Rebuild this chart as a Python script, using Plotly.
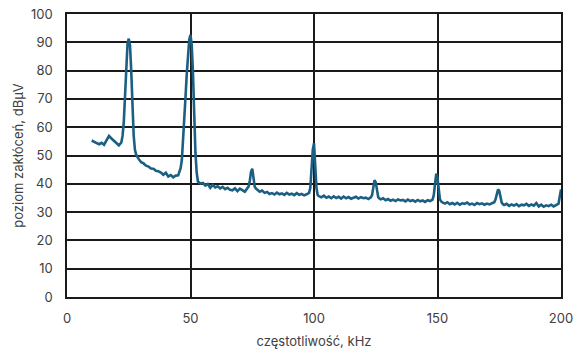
import plotly.graph_objects as go

freq_khz = [
    10, 11, 12, 13, 14, 15, 16, 17, 18, 19, 20, 21, 22,
    22.5, 23, 23.5, 24, 24.5, 25, 25.5, 26, 26.5, 27, 27.5, 28,
    29, 30, 31, 32, 33, 34, 35, 36, 37, 38, 39, 40, 41, 42, 43, 44, 45,
    45.5, 46, 46.5, 47, 47.5, 48, 48.5, 49, 49.5, 50, 50.5, 51, 51.5, 52, 52.5, 53,
    54, 55, 56, 57, 58, 59, 60, 61, 62, 63, 64, 65, 66, 67, 68, 69, 70, 71, 72, 73,
    73.5, 74, 74.5, 75, 75.5, 76, 76.5,
    77, 78, 79, 80, 81, 82, 83, 84, 85, 86, 87, 88, 89, 90, 91, 92, 93, 94, 95, 96, 97, 98,
    98.5, 99, 99.5, 100, 100.5, 101, 101.5,
    102, 103, 104, 105, 106, 107, 108, 109, 110, 111, 112, 113, 114, 115, 116, 117, 118, 119, 120, 121, 122, 123,
    123.5, 124, 124.5, 125, 125.5, 126, 126.5,
    127, 128, 129, 130, 131, 132, 133, 134, 135, 136, 137, 138, 139, 140, 141, 142, 143, 144, 145, 146, 147, 148,
    148.5, 149, 149.5, 150, 150.5, 151, 151.5,
    152, 153, 154, 155, 156, 157, 158, 159, 160, 161, 162, 163, 164, 165, 166, 167, 168, 169, 170, 171, 172, 173,
    173.5, 174, 174.5, 175, 175.5, 176, 176.5,
    177, 178, 179, 180, 181, 182, 183, 184, 185, 186, 187, 188, 189, 190, 191, 192, 193, 194, 195, 196, 197, 198, 199,
    199.5, 200,
]

level_dbuv = [
    55.3, 54.7, 54.4, 54.0, 54.5, 53.8, 55.4, 56.9, 56.0, 55.2, 54.3, 53.6, 54.6,
    57, 62, 71, 82, 89.5, 91.3, 89, 80, 67, 57, 52, 50.3,
    48.8, 47.6, 47.2, 46.4, 46.1, 45.4, 45.3, 44.6, 44.4, 44.0, 43.2, 43.9, 42.6, 43.1, 42.3, 42.9, 43.0,
    44, 45.5, 48.5, 55, 63, 71, 79, 86, 91, 92.6, 89, 79, 64, 51, 44, 40.8,
    40.1, 40.3, 39.4, 39.9, 38.6, 39.6, 38.7, 39.1, 38.4, 38.9, 38.1, 38.6, 37.9, 37.7, 38.4, 37.4, 38.3, 37.6, 37.2, 38.4,
    39, 41, 44.2, 45.3, 42.5, 39, 38.3,
    37.9, 37.2, 37.6, 36.8, 37.1, 36.4, 36.7, 36.2, 36.9, 36.3, 36.6, 36.1, 36.8, 36.2, 36.5, 36.0, 36.7, 36.1, 36.4, 35.9, 36.3, 36.8,
    38.5, 45, 52, 54.3, 47, 38.5, 36,
    35.6, 35.2, 35.8, 35.1, 35.5, 34.9, 35.6, 35.0, 35.4, 34.8, 35.5, 34.9, 35.3, 34.7, 35.2, 35.4, 34.8, 35.3, 34.9, 35.1, 34.6, 35.2,
    36, 38.5, 41.3, 40.5, 37, 35.3, 34.8,
    34.5, 34.9, 34.2, 34.6, 34.0, 34.4, 33.9, 34.5, 34.1, 34.3, 33.8, 34.4, 33.9, 34.2, 33.7, 34.3, 33.8, 34.1, 33.6, 34.2, 33.9, 34.4,
    36, 40, 43.6, 42, 37, 34.5, 33.8,
    33.4, 33.0, 33.5, 32.8, 33.2, 32.7, 33.3, 32.6, 33.1, 32.9, 33.4, 32.7, 33.0, 32.5, 33.2, 32.8, 33.1, 32.6, 33.0, 32.7, 33.2, 33.5,
    34.5, 36.5, 38, 37.5, 35, 33.3, 32.8,
    32.5, 32.9, 32.2, 32.7, 32.3, 32.8, 32.1, 32.6, 32.4, 32.9, 32.2, 32.7, 32.3, 33.2, 32.0, 32.6, 31.9, 32.4, 32.1, 32.6, 32.0, 32.5, 33.0,
    35.5, 38,
]

x_ticks = [0, 50, 100, 150, 200]
y_ticks = [0, 10, 20, 30, 40, 50, 60, 70, 80, 90, 100]

fig = go.Figure()
fig.add_trace(go.Scatter(
    x=freq_khz, y=level_dbuv, mode="lines",
    line=dict(color="#1b5f82", width=2.6),
    showlegend=False, hoverinfo="skip",
))

font = dict(family="Inter, Noto Sans, sans-serif", size=13, color="#404040")

fig.update_layout(
    width=574, height=349,
    margin=dict(l=67, r=13, t=14, b=52),
    paper_bgcolor="white", plot_bgcolor="white",
    font=font,
    xaxis=dict(
        range=[0, 200], tickvals=x_ticks, ticktext=[str(v) for v in x_ticks],
        showgrid=True, gridcolor="#1a1a1a", gridwidth=1.5,
        showline=True, linecolor="#1a1a1a", linewidth=1.5, mirror=True,
        ticks="", zeroline=False, ticklabelstandoff=9, automargin=False,
        ticklabeloverflow="allow",
        title=dict(text="częstotliwość, kHz", font=font, standoff=12),
    ),
    yaxis=dict(
        range=[0, 100], tickvals=y_ticks, ticktext=[str(v) for v in y_ticks],
        showgrid=True, gridcolor="#1a1a1a", gridwidth=1.5,
        showline=True, linecolor="#1a1a1a", linewidth=1.5, mirror=True,
        ticks="", zeroline=False, ticklabelstandoff=10, automargin=False,
        ticklabeloverflow="allow",
        title=dict(text="poziom zakłóceń, dBµV", font=font, standoff=4),
    ),
)

fig.write_html("out.html", config={"displayModeBar": False},
               post_script="document.body.style.margin='0';")
